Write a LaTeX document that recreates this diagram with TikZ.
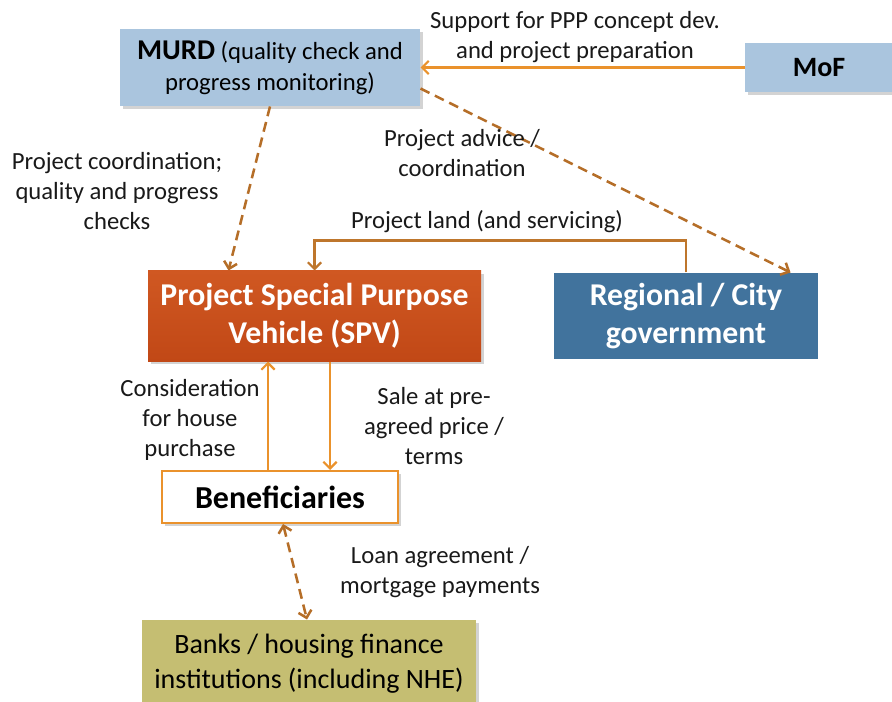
\documentclass[tikz,border=0pt]{standalone}
\usepackage{fontspec}
\setmainfont{Carlito}
\usetikzlibrary{arrows.meta,shadows,calc}

\definecolor{murdblue}{RGB}{170,197,222}
\definecolor{spvtop}{RGB}{208,88,34}
\definecolor{spvbottom}{RGB}{193,72,22}
\definecolor{citysteel}{RGB}{65,115,157}
\definecolor{bankolive}{RGB}{197,190,114}
\definecolor{flowline}{RGB}{234,146,44}
\definecolor{landline}{RGB}{190,118,44}
\definecolor{advline}{RGB}{181,110,40}
\definecolor{lbltext}{RGB}{25,25,25}

\tikzset{every picture/.style={line width=0.75pt}}
\tikzset{
  box/.style={draw=none, align=center, inner sep=2pt,
    drop shadow={shadow xshift=2pt, shadow yshift=-2pt, opacity=0.35}},
  lbl/.style={align=center, inner sep=0.75pt, text=lbltext,
    font=\fontsize{18.5}{22.5}\selectfont},
  tip/.style={-{Straight Barb[length=5pt,width=10pt]}},
  flow/.style={draw=flowline, line width=1.6pt, tip},
  land/.style={draw=landline, line width=1.6pt, tip},
  advice/.style={draw=advline, line width=1.9pt, dash pattern=on 7.5pt off 4.5pt, tip},
}

\begin{document}
\begin{tikzpicture}[x=0.75pt,y=0.75pt,yscale=-1,xscale=1]
    \useasboundingbox (0,0) rectangle (892,702);

    % Boxes
    \node [box, fill=murdblue, minimum width=225pt, minimum height=57.75pt,
      font=\fontsize{18.5}{23.25}\selectfont] (murd) at (270,67.5)
      {{\fontsize{21.5}{23.25}\selectfont\bfseries MURD} (quality check and\\progress monitoring)};
    \node [box, fill=murdblue, minimum width=111pt, minimum height=36.75pt,
      font=\fontsize{21}{24}\selectfont\bfseries] (mof) at (819,67.5) {MoF};
    \node [box, top color=spvtop, bottom color=spvbottom, text=white,
      minimum width=249.75pt, minimum height=67.5pt,
      font=\fontsize{23.8}{28.5}\selectfont\bfseries] (spv) at (314.5,316)
      {Project Special Purpose\\Vehicle (SPV)};
    \node [draw=none, fill=citysteel, text=white, align=center,
      minimum width=198pt, minimum height=64.5pt,
      font=\fontsize{23.8}{28.5}\selectfont\bfseries] (city) at (686,316)
      {Regional / City\\government};
    \node [box, fill=white, draw=flowline, line width=1.5pt,
      minimum width=177pt, minimum height=39pt,
      font=\fontsize{24}{28}\selectfont\bfseries] (benef) at (280,497) {Beneficiaries};
    \node [box, fill=bankolive, minimum width=250.5pt, minimum height=66pt,
      font=\fontsize{21}{26.25}\selectfont] (banks) at (309,664)
      {Banks / housing finance\\institutions (including NHE)};

    % Connectors
    \draw [flow] (mof) -- (murd);
    \draw [advice] ($(murd.east)+(0,21)$) -- ($(city.north east)+(-28,0)$);
    \draw [advice] (murd.south) -- ($(spv.north)+(-86,0)$);
    \draw [land] (city.north) -- ++(0,-32) -| (spv.north);
    \draw [flow] ($(spv.south)+(15.5,0)$) -- ($(benef.north)+(50,0)$);
    \draw [flow] ($(benef.north)+(-12,0)$) -- ($(spv.south)+(-46.5,0)$);
    \draw [advice, {Straight Barb[length=5pt,width=10pt]}-{Straight Barb[length=5pt,width=10pt]}]
      ($(benef.south)+(3,0)$) -- ($(banks.north)+(-2,0)$);

    % Labels
    \node [lbl] (supportlbl) at (575,37) {Support for PPP concept dev.\\and project preparation};
    \node [lbl] (advicelbl) at (462,153) {Project advice /\\coordination};
    \node [lbl] (coordlbl) at (117,191) {Project coordination;\\quality and progress\\checks};
    \node [lbl] (landlbl) at (487,222) {Project land (and servicing)};
    \node [lbl] (considlbl) at (190,420) {Consideration\\for house\\purchase};
    \node [lbl] (salelbl) at (434,426) {Sale at pre-\\agreed price /\\terms};
    \node [lbl] (loanlbl) at (440,572) {Loan agreement /\\mortgage payments};
\end{tikzpicture}
\end{document}
